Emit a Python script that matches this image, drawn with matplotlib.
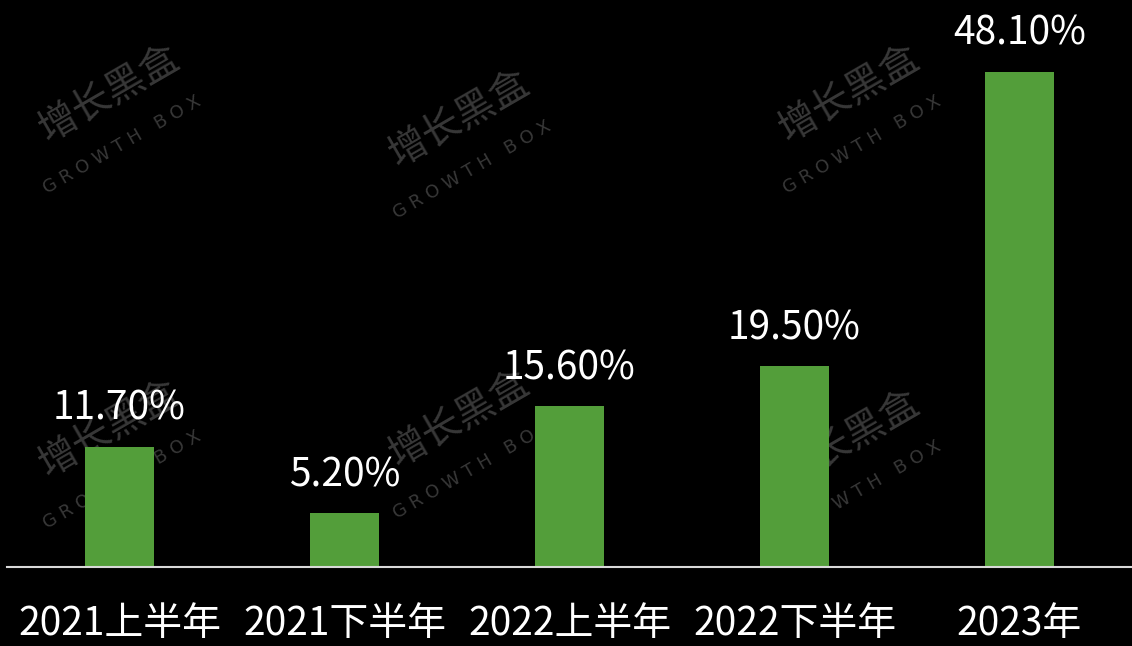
import matplotlib
matplotlib.use("Agg")
import matplotlib.pyplot as plt

plt.rcParams['font.family'] = ['Noto Sans CJK SC', 'DejaVu Sans']

categories = ['2021上半年', '2021下半年', '2022上半年', '2022下半年', '2023年']
values = [11.70, 5.20, 15.60, 19.50, 48.10]
labels = ['11.70%', '5.20%', '15.60%', '19.50%', '48.10%']

bar_color = '#539e3a'
mark_color = '#383838'

fig = plt.figure(figsize=(11.32, 6.46), dpi=100, facecolor='black')

# watermark layer behind the chart
wm = fig.add_axes([0, 0, 1, 1], zorder=0)
wm.set_xlim(0, 1132)
wm.set_ylim(646, 0)
wm.axis('off')
spots = [(110, 95), (460, 120), (850, 95), (110, 430), (460, 420), (850, 440)]
for sx, sy in spots:
    wm.text(sx, sy, '增长黑盒', color=mark_color, fontsize=28, rotation=30,
            ha='center', va='center')
    wm.text(sx + 12, sy + 50, 'G R O W T H   B O X', color=mark_color, fontsize=13,
            rotation=30, ha='center', va='center', family='DejaVu Sans')

ax = fig.add_axes([7 / 1132, 79 / 646, 1125 / 1132, 567 / 646], zorder=1)
ax.set_facecolor('none')
x = list(range(len(categories)))
bars = ax.bar(x, values, width=0.31, color=bar_color)
for b, lab in zip(bars, labels):
    ax.annotate(lab, (b.get_x() + b.get_width() / 2, b.get_height()),
                xytext=(0, 13), textcoords='offset points',
                ha='center', va='bottom', color='white', fontsize=28)

ax.set_xlim(-0.5, 4.5)
ax.set_ylim(0, 55.1)
ax.set_xticks(x)
ax.set_xticklabels(categories, color='white', fontsize=28)
ax.tick_params(axis='x', length=0, pad=27)
ax.set_yticks([])
for s in ['top', 'right', 'left']:
    ax.spines[s].set_visible(False)
ax.spines['bottom'].set_color('#d9d9d9')
ax.spines['bottom'].set_linewidth(1.5)

fig.savefig('out.png', dpi=100, facecolor='black')
